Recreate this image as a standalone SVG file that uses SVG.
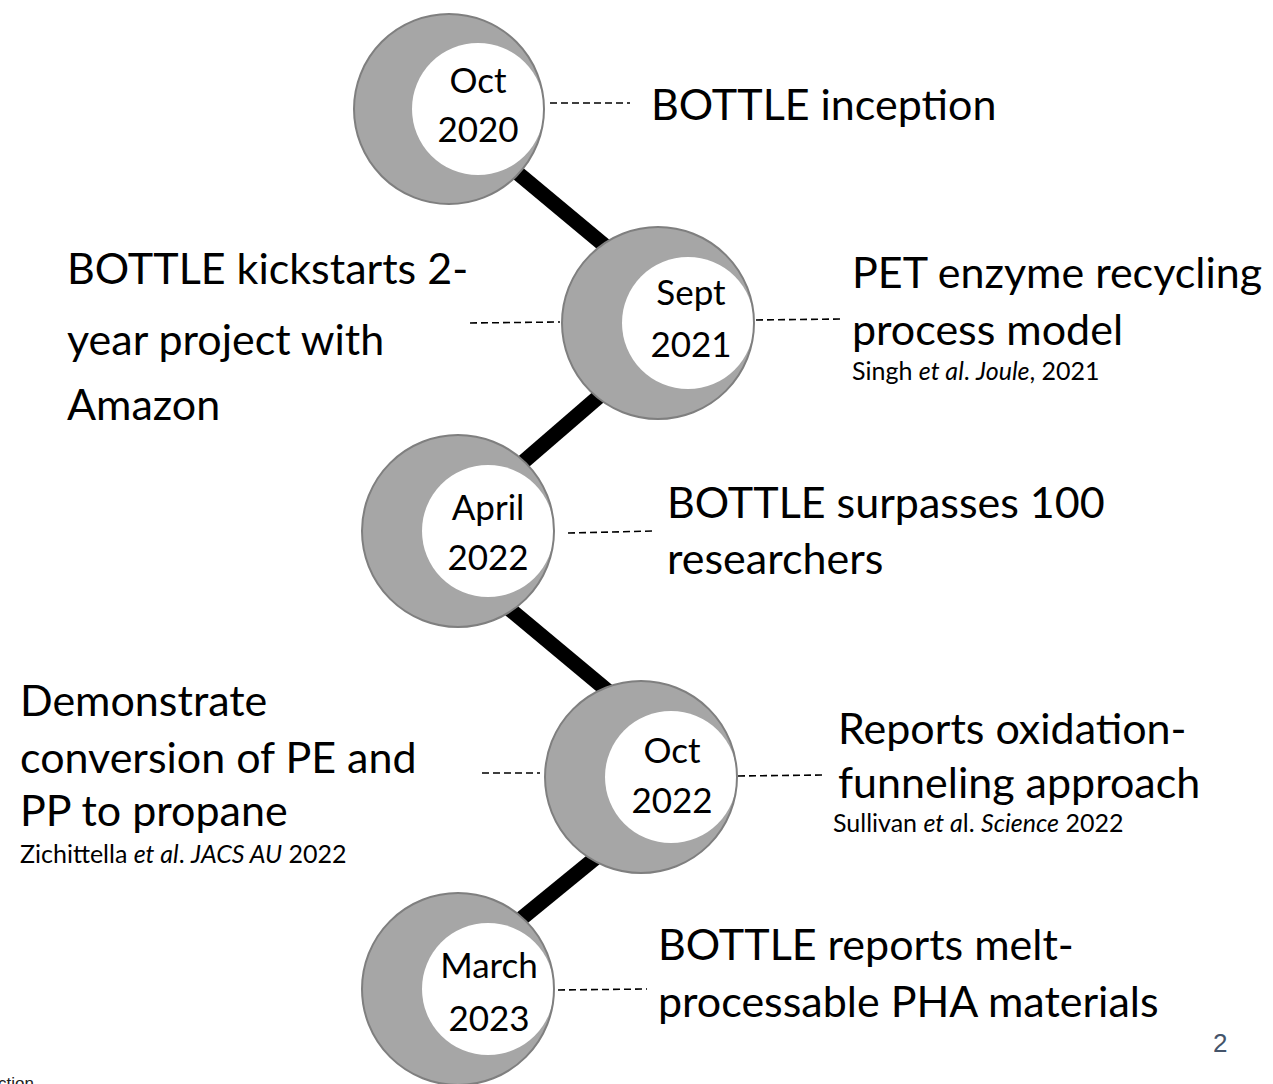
<svg xmlns="http://www.w3.org/2000/svg" width="1273" height="1084" viewBox="0 0 1273 1084">
<style>
.outer{fill:#a6a6a6;stroke:none}
.ring{fill:none;stroke:#7f7f7f;stroke-width:2}
.inner{fill:#ffffff}
.date{font-family:Lato,"Liberation Sans",sans-serif;font-size:35px;fill:#000;text-anchor:middle}
.main{font-family:Lato,"Liberation Sans",sans-serif;font-size:43px;fill:#000}
.cite{font-family:Lato,"Liberation Sans",sans-serif;font-size:25px;fill:#000}
.dash{stroke:#000;stroke-width:1.6;stroke-dasharray:7 4;fill:none}
.link{stroke:#000;stroke-width:15;fill:none}
</style>
<rect width="1273" height="1084" fill="#ffffff"/>
<g id="connectors">
<line class="link" x1="490" y1="150" x2="640" y2="275"/>
<line class="link" x1="625" y1="374" x2="500" y2="482"/>
<line class="link" x1="495" y1="597" x2="615" y2="697"/>
<line class="link" x1="615" y1="842" x2="505" y2="932"/>
<line class="dash" x1="550" y1="103" x2="630" y2="103"/>
<line class="dash" x1="470" y1="323" x2="560" y2="322"/>
<line class="dash" x1="756" y1="320" x2="840" y2="319"/>
<line class="dash" x1="568" y1="533" x2="655" y2="531"/>
<line class="dash" x1="482" y1="773" x2="540" y2="773"/>
<line class="dash" x1="738" y1="776" x2="823" y2="775"/>
<line class="dash" x1="558" y1="990" x2="647" y2="989"/>
</g>
<g id="node-oct2020">
<circle class="outer" cx="449" cy="109" r="95"/>
<circle class="inner" cx="478" cy="109" r="66"/>
<circle class="ring" cx="449" cy="109" r="95"/>
<text class="date" x="478" y="93">Oct</text>
<text class="date" x="478" y="142">2020</text>
</g>
<g id="node-sept2021">
<circle class="outer" cx="658" cy="323" r="96"/>
<circle class="inner" cx="688" cy="323" r="66"/>
<circle class="ring" cx="658" cy="323" r="96"/>
<text class="date" x="691" y="305">Sept</text>
<text class="date" x="691" y="357">2021</text>
</g>
<g id="node-april2022">
<circle class="outer" cx="458" cy="531" r="96"/>
<circle class="inner" cx="488" cy="531" r="66"/>
<circle class="ring" cx="458" cy="531" r="96"/>
<text class="date" x="488" y="520">April</text>
<text class="date" x="488" y="570">2022</text>
</g>
<g id="node-oct2022">
<circle class="outer" cx="641" cy="777" r="96"/>
<circle class="inner" cx="671" cy="777" r="66"/>
<circle class="ring" cx="641" cy="777" r="96"/>
<text class="date" x="672" y="763">Oct</text>
<text class="date" x="672" y="813">2022</text>
</g>
<g id="node-march2023">
<circle class="outer" cx="458" cy="989" r="96"/>
<circle class="inner" cx="488" cy="989" r="66"/>
<circle class="ring" cx="458" cy="989" r="96"/>
<text class="date" x="489" y="978">March</text>
<text class="date" x="489" y="1031">2023</text>
</g>
<g id="label-inception">
<text class="main" x="651" y="120">BOTTLE inception</text>
</g>
<g id="label-amazon">
<text class="main" x="67" y="284">BOTTLE kickstarts 2-</text>
<text class="main" x="67" y="355">year project with</text>
<text class="main" x="67" y="420">Amazon</text>
</g>
<g id="label-pet">
<text class="main" x="852" y="288">PET enzyme recycling</text>
<text class="main" x="852" y="345">process model</text>
<text class="cite" x="852" y="380">Singh <tspan font-style="italic">et al</tspan>. <tspan font-style="italic">Joule</tspan>, 2021</text>
</g>
<g id="label-100">
<text class="main" x="667" y="518">BOTTLE surpasses 100</text>
<text class="main" x="667" y="574">researchers</text>
</g>
<g id="label-propane">
<text class="main" x="20" y="716">Demonstrate</text>
<text class="main" x="20" y="773">conversion of PE and</text>
<text class="main" x="20" y="826">PP to propane</text>
<text class="cite" x="20" y="863">Zichittella <tspan font-style="italic">et al</tspan>. <tspan font-style="italic">JACS AU</tspan> 2022</text>
</g>
<g id="label-oxidation">
<text class="main" x="838" y="744">Reports oxidation-</text>
<text class="main" x="838" y="798">funneling approach</text>
<text class="cite" x="833" y="832">Sullivan <tspan font-style="italic">et a</tspan>l. <tspan font-style="italic">Science</tspan> 2022</text>
</g>
<g id="label-pha">
<text class="main" x="658" y="960">BOTTLE reports melt-</text>
<text class="main" x="658" y="1017">processable PHA materials</text>
</g>
<text x="-2" y="1089" font-family="'Liberation Sans',Arial,sans-serif" font-size="17" fill="#222">ction</text>
<text x="1213" y="1052" font-family="'Liberation Sans',Arial,sans-serif" font-size="26" fill="#44546a">2</text>
</svg>
